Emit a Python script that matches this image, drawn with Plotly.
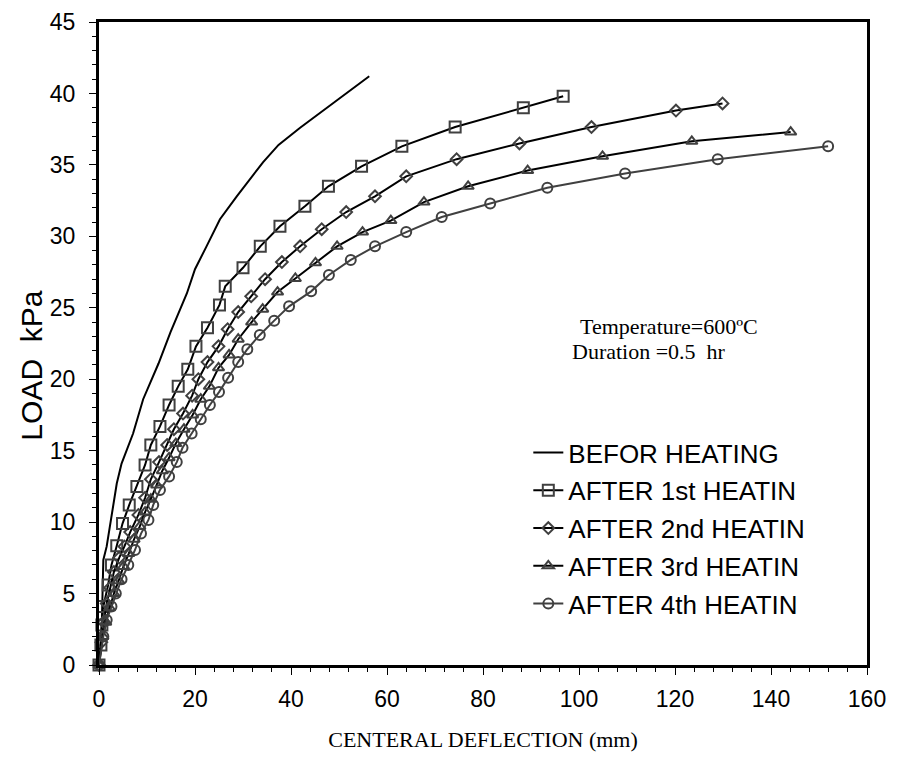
import plotly.graph_objects as go

# ---- data ----
before_x = [0, 0.6, 0.9, 1.6, 3.7, 4.7, 7.1, 9.2, 12.4, 14.9, 18.3, 20.0, 22.4, 25.2, 28.7, 34.2, 37.4, 41.9, 56.3]
before_y = [0, 3.0, 7.35, 8.3, 12.7, 14.1, 16.2, 18.6, 21.1, 23.3, 26.0, 27.7, 29.3, 31.2, 32.8, 35.2, 36.4, 37.6, 41.2]

h1_x = [0, 0.4, 0.6, 0.9, 1.9, 2.6, 3.7, 4.9, 6.3, 7.9, 9.6, 10.8, 12.7, 14.6, 16.5, 18.5, 20.2, 22.6, 25.1, 26.3,
        30.0, 33.6, 37.7, 42.9, 47.8, 54.7, 63.1, 74.2, 88.4, 96.7]
h1_y = [0, 1.4, 2.8, 4.1, 5.6, 7.0, 8.35, 9.9, 11.2, 12.5, 14.0, 15.4, 16.7, 18.2, 19.5, 20.7, 22.3, 23.6, 25.2, 26.5,
        27.8, 29.3, 30.7, 32.1, 33.5, 34.9, 36.3, 37.65, 39.0, 39.8]

h2_x = [0, 0.5, 1.0, 1.6, 2.3, 3.1, 4.2, 5.3, 6.5, 8.2, 9.6, 10.8, 12.5, 14.2, 15.6, 17.5, 19.4, 20.7, 22.6, 24.9,
        26.8, 29.0, 31.7, 34.6, 38.1, 41.9, 46.4, 51.5, 57.5, 64.0, 74.5, 87.6, 102.6, 120.2, 129.9]
h2_y = [0, 1.6, 3.0, 4.3, 5.4, 6.5, 7.5, 8.3, 9.3, 10.5, 11.7, 13.0, 14.2, 15.4, 16.5, 17.6, 18.85, 20.0, 21.2, 22.3,
        23.5, 24.7, 25.8, 27.0, 28.2, 29.3, 30.5, 31.7, 32.8, 34.2, 35.4, 36.5, 37.65, 38.8, 39.3]

h3_x = [0, 0.8, 1.4, 2.2, 3.1, 4.1, 5.1, 6.2, 7.3, 8.5, 9.6, 10.8, 12.0, 13.2, 14.6, 16.0, 17.7, 19.5, 21.2, 23.0,
        24.9, 27.1, 29.0, 31.8, 34.1, 37.2, 40.9, 45.1, 49.6, 54.9, 60.8, 67.7, 76.9, 89.3, 104.9, 123.5, 144.1]
h3_y = [0, 2.0, 3.0, 4.0, 5.0, 5.9, 6.9, 7.8, 8.8, 9.7, 10.7, 11.6, 12.6, 13.6, 14.5, 15.5, 16.5, 17.5, 18.6, 19.5,
        20.8, 21.7, 22.8, 24.0, 24.9, 26.1, 27.05, 28.15, 29.3, 30.3, 31.1, 32.4, 33.5, 34.6, 35.6, 36.65, 37.3]

h4_x = [0, 0.9, 1.6, 2.6, 3.5, 4.7, 6.1, 7.5, 8.75, 10.3, 11.3, 12.7, 14.6, 16.2, 17.4, 19.3, 21.2, 23.1, 25.0, 26.9,
        29.0, 30.9, 33.5, 36.5, 39.6, 44.2, 47.9, 52.45, 57.5, 64.0, 71.4, 81.5, 93.4, 109.6, 128.9, 151.9]
h4_y = [0, 2.0, 3.15, 4.1, 5.0, 6.0, 7.0, 8.05, 9.2, 10.15, 11.2, 12.25, 13.2, 14.2, 15.2, 16.2, 17.2, 18.2, 19.1, 20.1,
        21.2, 22.1, 23.1, 24.1, 25.1, 26.15, 27.3, 28.35, 29.3, 30.3, 31.35, 32.3, 33.4, 34.4, 35.4, 36.3]

series_names = ["BEFOR HEATING", "AFTER 1st HEATIN", "AFTER 2nd HEATIN", "AFTER 3rd HEATIN", "AFTER 4th HEATIN"]
x_tick_vals = [0, 20, 40, 60, 80, 100, 120, 140, 160]
y_tick_vals = [0, 5, 10, 15, 20, 25, 30, 35, 40, 45]

MK = "#404040"
SANS = "Liberation Sans, Arial"
SERIF = "Liberation Serif, Times New Roman"

fig = go.Figure()
fig.add_trace(go.Scatter(x=before_x, y=before_y, mode="lines", name=series_names[0],
                         line=dict(color="black", width=2), legendgroup="g0", cliponaxis=False))
specs = [
    (h1_x, h1_y, "square-open", 11, "black"),
    (h2_x, h2_y, "diamond-open", 9, "black"),
    (h3_x, h3_y, "triangle-up-open", 10, "black"),
    (h4_x, h4_y, "circle-open", 10, "#404040"),
]
for i, (xs, ys, sym, sz, lc) in enumerate(specs, start=1):
    fig.add_trace(go.Scatter(
        x=xs, y=ys, mode="lines+markers", name=series_names[i], legendgroup=f"g{i}",
        line=dict(color=lc, width=2),
        marker=dict(symbol=sym, size=sz, color=MK, line=dict(color=MK, width=2)),
        cliponaxis=False))

axis_common = dict(showline=True, linecolor="black", linewidth=3, mirror=True,
                   ticks="outside", tickcolor="black", tickwidth=1, ticklen=7,
                   showgrid=False, zeroline=False, automargin=False,
                   tickfont=dict(family=SANS, size=23, color="black"))

fig.update_xaxes(range=[0, 160], tickvals=x_tick_vals, ticklabelstandoff=4,
                 minor=dict(dtick=4, ticks="outside", ticklen=4, tickcolor="black", tickwidth=1, showgrid=False),
                 title=dict(text="CENTERAL DEFLECTION (mm)", standoff=22,
                            font=dict(family=SERIF, size=22, color="black")),
                 **axis_common)
fig.update_yaxes(range=[0, 45], tickvals=y_tick_vals, ticklabelstandoff=9,
                 minor=dict(dtick=1, ticks="outside", ticklen=4, tickcolor="black", tickwidth=1, showgrid=False),
                 **axis_common)

# y-axis title (placed a little below the axis centre, as in the reference)
fig.add_annotation(x=-0.089, y=0.465, xref="paper", yref="paper", xanchor="center", yanchor="middle",
                   text="LOAD  kPa", textangle=-90, showarrow=False,
                   font=dict(family=SANS, size=30, color="black"))

fig.add_annotation(x=0.624, y=0.527, xref="paper", yref="paper", xanchor="left", yanchor="middle",
                   text="Temperature=600ºC", showarrow=False,
                   font=dict(family=SERIF, size=22, color="black"))
fig.add_annotation(x=0.613, y=0.487, xref="paper", yref="paper", xanchor="left", yanchor="middle",
                   text="Duration =0.5  hr", showarrow=False,
                   font=dict(family=SERIF, size=22, color="black"))

# the page adds an 8 px body margin; the figure is sized so the plot lands where the reference has it
fig.update_layout(
    width=889, height=772,
    margin=dict(l=91, r=30, t=14, b=115),
    plot_bgcolor="white", paper_bgcolor="white",
    showlegend=True,
    legend=dict(x=0.559, y=0.367, xanchor="left", yanchor="top",
                bgcolor="rgba(0,0,0,0)", traceorder="grouped", tracegroupgap=1,
                font=dict(family=SANS, size=26, color="black")),
)

fig.write_html("out.html")
